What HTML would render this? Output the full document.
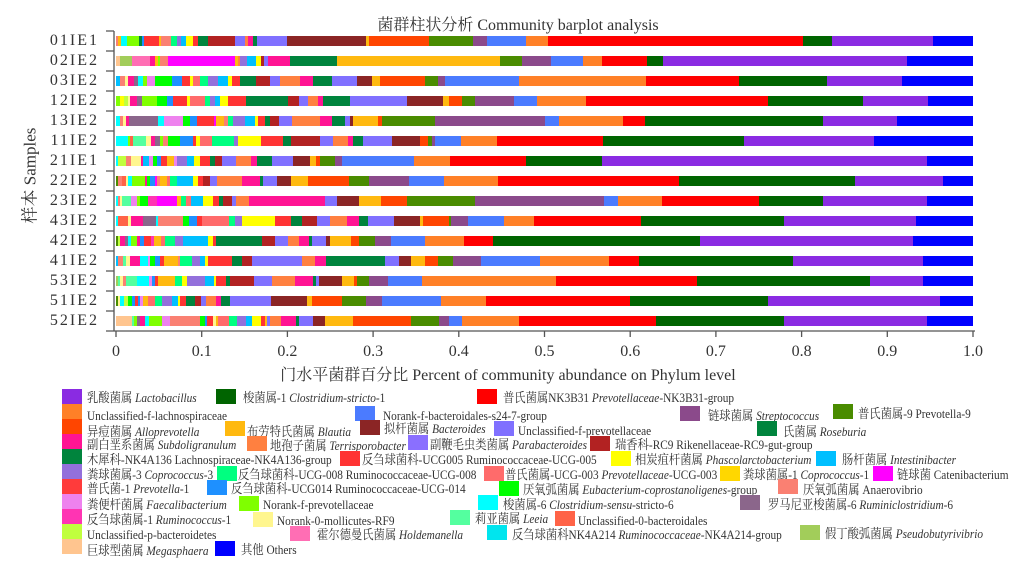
<!DOCTYPE html>
<html><head><meta charset="utf-8">
<style>
body{margin:0;width:1023px;height:568px;background:#fff;position:relative;overflow:hidden;font-family:"Liberation Serif","Noto Serif CJK SC",serif;color:#333}
.a{position:absolute}
.bar{position:absolute;left:0;width:973px;height:10px}
.yl{position:absolute;right:924px;font-size:16px;letter-spacing:2px;line-height:16px}
.xt{position:absolute;top:343px;font-size:16px;transform:translateX(-50%)}
.sw{position:absolute;width:20px;height:15px}
.lt{position:absolute;font-size:13px;line-height:15px;white-space:nowrap;transform:scaleX(0.87);transform-origin:0 0}
</style></head><body>
<div class="a" style="left:0;width:1036px;top:12px;text-align:center;font-size:16px">菌群柱状分析 Community barplot analysis</div>
<div class="a" style="left:-32px;top:163px;width:120px;text-align:center;font-size:17px;transform:rotate(-90deg)">样本 Samples</div>

<div class="bar" style="top:36px;background:linear-gradient(90deg,transparent 0 116px,#FA8072 116px 118px,#FFB90F 118px 121px,#00FFFF 121px 127px,#7FFF00 127px 139px,#00843D 139px 142px,#1E90FF 142px 144px,#FF3333 144px 159px,#FFB90F 159px 161px,#FA8072 161px 171px,#00FF80 171px 177px,#9370DB 177px 181px,#00BFFF 181px 186px,#FFFF00 186px 193px,#FF3333 193px 198px,#00843D 198px 208px,#B22222 208px 235px,#8070FF 235px 245px,#FF8040 245px 248px,#FF1493 248px 253px,#00843D 253px 257px,#8070FF 257px 287px,#8B2525 287px 366px,#FFB90F 366px 369px,#FF4500 369px 429px,#4A8C00 429px 473px,#8B4A8B 473px 487px,#4B7BFF 487px 526px,#FF8027 526px 548px,#FF0000 548px 803px,#006400 803px 832px,#8A2BE2 832px 933px,#0000FF 933px 973px)"></div>
<div class="bar" style="top:56px;background:linear-gradient(90deg,transparent 0 116px,#FFC58F 116px 120px,#A2CD5A 120px 132px,#FF6EB4 132px 150px,#FF1493 150px 155px,#FFB90F 155px 158px,#7FFF00 158px 160px,#FA8072 160px 168px,#FF00FF 168px 235px,#FFB90F 235px 238px,#FF8040 238px 240px,#9370DB 240px 247px,#00BFFF 247px 256px,#FFFF00 256px 261px,#B22222 261px 264px,#8070FF 264px 268px,#FF1493 268px 290px,#00843D 290px 337px,#FFB90F 337px 500px,#4A8C00 500px 522px,#8B4A8B 522px 551px,#4B7BFF 551px 583px,#FF8027 583px 602px,#FF0000 602px 647px,#006400 647px 663px,#8A2BE2 663px 907px,#0000FF 907px 973px)"></div>
<div class="bar" style="top:76px;background:linear-gradient(90deg,transparent 0 116px,#00BFFF 116px 120px,#FA8072 120px 125px,#FFF68F 125px 128px,#FF1493 128px 134px,#8B668B 134px 138px,#00FFFF 138px 143px,#7FFF00 143px 147px,#EE82EE 147px 155px,#00FF00 155px 172px,#1E90FF 172px 182px,#FF3333 182px 190px,#FFFF00 190px 193px,#FF6B6B 193px 200px,#00FF80 200px 208px,#9370DB 208px 218px,#00BFFF 218px 228px,#FFFF00 228px 232px,#FF3333 232px 240px,#00843D 240px 256px,#B22222 256px 270px,#8070FF 270px 280px,#FF8040 280px 300px,#FF1493 300px 313px,#00843D 313px 332px,#8070FF 332px 357px,#8B2525 357px 372px,#FFB90F 372px 380px,#FF4500 380px 425px,#4A8C00 425px 438px,#8B4A8B 438px 445px,#4B7BFF 445px 519px,#FF8027 519px 646px,#FF0000 646px 739px,#006400 739px 827px,#8A2BE2 827px 902px,#0000FF 902px 973px)"></div>
<div class="bar" style="top:96px;background:linear-gradient(90deg,transparent 0 116px,#7FFF00 116px 120px,#FFFF00 120px 124px,#C0FF3E 124px 128px,#FFF68F 128px 130px,#FF1493 130px 137px,#8B668B 137px 142px,#7FFF00 142px 157px,#00FF00 157px 167px,#1E90FF 167px 173px,#FF3333 173px 187px,#FFFF00 187px 190px,#FF6B6B 190px 205px,#00FF80 205px 210px,#9370DB 210px 215px,#00BFFF 215px 220px,#FFFF00 220px 228px,#FF3333 228px 246px,#00843D 246px 288px,#B22222 288px 299px,#8070FF 299px 308px,#FF8040 308px 318px,#FF1493 318px 323px,#00843D 323px 350px,#8070FF 350px 407px,#8B2525 407px 443px,#FFB90F 443px 449px,#FF4500 449px 462px,#4A8C00 462px 475px,#8B4A8B 475px 514px,#4B7BFF 514px 537px,#FF8027 537px 586px,#FF0000 586px 768px,#006400 768px 863px,#8A2BE2 863px 928px,#0000FF 928px 973px)"></div>
<div class="bar" style="top:116px;background:linear-gradient(90deg,transparent 0 116px,#00FFFF 116px 120px,#FA8072 120px 123px,#FFF68F 123px 126px,#FF1493 126px 129px,#8B668B 129px 158px,#00FFFF 158px 164px,#EE82EE 164px 183px,#00FF00 183px 190px,#1E90FF 190px 197px,#FF3333 197px 214px,#FF00FF 214px 216px,#FFB90F 216px 224px,#FA8072 224px 228px,#00FF80 228px 233px,#9370DB 233px 245px,#00BFFF 245px 255px,#FFFF00 255px 258px,#FF3333 258px 265px,#00843D 265px 270px,#B22222 270px 279px,#8070FF 279px 292px,#FF8040 292px 320px,#FF1493 320px 332px,#00843D 332px 345px,#8070FF 345px 350px,#8B2525 350px 353px,#FFB90F 353px 378px,#FF4500 378px 382px,#4A8C00 382px 435px,#8B4A8B 435px 545px,#4B7BFF 545px 559px,#FF8027 559px 623px,#FF0000 623px 645px,#006400 645px 823px,#8A2BE2 823px 897px,#0000FF 897px 973px)"></div>
<div class="bar" style="top:136px;background:linear-gradient(90deg,transparent 0 116px,#00FFFF 116px 128px,#7FFF00 128px 130px,#FF6347 130px 133px,#54FF9F 133px 146px,#FFF68F 146px 151px,#FF1493 151px 155px,#8B668B 155px 160px,#7FFF00 160px 163px,#FA8072 163px 168px,#00FF00 168px 180px,#1E90FF 180px 193px,#FF3333 193px 196px,#FFFF00 196px 200px,#FF6B6B 200px 212px,#00FF80 212px 234px,#9370DB 234px 238px,#FFFF00 238px 261px,#FF3333 261px 283px,#00843D 283px 291px,#B22222 291px 320px,#8070FF 320px 333px,#FF8040 333px 348px,#FF1493 348px 353px,#00843D 353px 363px,#8070FF 363px 392px,#8B2525 392px 420px,#FF4500 420px 428px,#4A8C00 428px 432px,#8B4A8B 432px 435px,#4B7BFF 435px 461px,#FF8027 461px 497px,#FF0000 497px 603px,#006400 603px 744px,#8A2BE2 744px 874px,#0000FF 874px 973px)"></div>
<div class="bar" style="top:156px;background:linear-gradient(90deg,transparent 0 116px,#00FFFF 116px 118px,#C0FF3E 118px 126px,#FA8072 126px 131px,#FFF68F 131px 141px,#FF1493 141px 143px,#00BFFF 143px 149px,#EE82EE 149px 153px,#00FF00 153px 157px,#1E90FF 157px 161px,#FF3333 161px 167px,#FFB90F 167px 174px,#EE82EE 174px 177px,#9370DB 177px 187px,#00BFFF 187px 194px,#FFFF00 194px 200px,#FF3333 200px 210px,#00843D 210px 215px,#B22222 215px 222px,#8070FF 222px 236px,#FF8040 236px 251px,#FF1493 251px 257px,#00843D 257px 272px,#8070FF 272px 293px,#8B2525 293px 310px,#FFB90F 310px 316px,#FF4500 316px 320px,#4A8C00 320px 335px,#8B4A8B 335px 342px,#4B7BFF 342px 414px,#FF8027 414px 450px,#FF0000 450px 526px,#006400 526px 602px,#8A2BE2 602px 927px,#0000FF 927px 973px)"></div>
<div class="bar" style="top:176px;background:linear-gradient(90deg,transparent 0 116px,#4A8C00 116px 118px,#FA8072 118px 122px,#FF6347 122px 126px,#FFF68F 126px 128px,#00FFFF 128px 132px,#7FFF00 132px 145px,#FF1493 145px 147px,#00FF00 147px 150px,#1E90FF 150px 155px,#FF00FF 155px 157px,#FA8072 157px 160px,#FFB90F 160px 167px,#FF6B6B 167px 170px,#00FF80 170px 177px,#00BFFF 177px 193px,#FFFF00 193px 198px,#FF3333 198px 203px,#B22222 203px 210px,#8070FF 210px 217px,#FF8040 217px 242px,#FF1493 242px 260px,#00843D 260px 263px,#8070FF 263px 277px,#8B2525 277px 291px,#FFB90F 291px 308px,#FF4500 308px 349px,#4A8C00 349px 369px,#8B4A8B 369px 409px,#4B7BFF 409px 444px,#FF8027 444px 498px,#FF0000 498px 679px,#006400 679px 855px,#8A2BE2 855px 943px,#0000FF 943px 973px)"></div>
<div class="bar" style="top:196px;background:linear-gradient(90deg,transparent 0 116px,#00FFFF 116px 118px,#FA8072 118px 120px,#FFF68F 120px 122px,#54FF9F 122px 131px,#EE82EE 131px 137px,#7FFF00 137px 140px,#00FF00 140px 148px,#FF34B3 148px 157px,#FF00FF 157px 177px,#FFB90F 177px 181px,#00FF80 181px 186px,#FF6B6B 186px 191px,#00BFFF 191px 203px,#FFFF00 203px 213px,#FF3333 213px 219px,#00843D 219px 223px,#B22222 223px 232px,#8070FF 232px 236px,#FF8040 236px 249px,#FF1493 249px 325px,#8070FF 325px 337px,#8B2525 337px 359px,#FFB90F 359px 381px,#FF4500 381px 407px,#4A8C00 407px 475px,#8B4A8B 475px 604px,#4B7BFF 604px 618px,#FF8027 618px 662px,#FF0000 662px 759px,#006400 759px 823px,#8A2BE2 823px 927px,#0000FF 927px 973px)"></div>
<div class="bar" style="top:216px;background:linear-gradient(90deg,transparent 0 116px,#00FFFF 116px 118px,#FF6347 118px 128px,#FFF68F 128px 131px,#FF1493 131px 143px,#8B668B 143px 156px,#00FFFF 156px 158px,#FA8072 158px 183px,#00FF00 183px 189px,#1E90FF 189px 197px,#FF3333 197px 202px,#FF6B6B 202px 229px,#00FF80 229px 235px,#9370DB 235px 242px,#FFFF00 242px 275px,#FF3333 275px 291px,#00843D 291px 302px,#B22222 302px 317px,#8070FF 317px 330px,#FF8040 330px 347px,#FF1493 347px 359px,#00843D 359px 368px,#8070FF 368px 394px,#8B2525 394px 420px,#FFB90F 420px 423px,#FF4500 423px 449px,#4A8C00 449px 451px,#8B4A8B 451px 468px,#4B7BFF 468px 504px,#FF8027 504px 534px,#FF0000 534px 641px,#006400 641px 784px,#8A2BE2 784px 916px,#0000FF 916px 973px)"></div>
<div class="bar" style="top:236px;background:linear-gradient(90deg,transparent 0 116px,#4A8C00 116px 118px,#C0FF3E 118px 120px,#FF1493 120px 125px,#8B668B 125px 128px,#00FFFF 128px 131px,#7FFF00 131px 137px,#FF1493 137px 140px,#1E90FF 140px 144px,#FF3333 144px 151px,#FF34B3 151px 154px,#FFB90F 154px 161px,#FF6B6B 161px 165px,#00FF80 165px 175px,#9370DB 175px 183px,#00BFFF 183px 208px,#FFFF00 208px 213px,#FF3333 213px 216px,#00843D 216px 262px,#B22222 262px 275px,#8070FF 275px 288px,#FF8040 288px 299px,#FF1493 299px 309px,#00843D 309px 312px,#8070FF 312px 326px,#8B2525 326px 330px,#FFB90F 330px 351px,#FF4500 351px 359px,#4A8C00 359px 375px,#8B4A8B 375px 391px,#4B7BFF 391px 425px,#FF8027 425px 464px,#FF0000 464px 493px,#006400 493px 700px,#8A2BE2 700px 913px,#0000FF 913px 973px)"></div>
<div class="bar" style="top:256px;background:linear-gradient(90deg,transparent 0 116px,#00BFFF 116px 118px,#FA8072 118px 123px,#54FF9F 123px 126px,#FFF68F 126px 130px,#FF1493 130px 140px,#00FFFF 140px 148px,#EE82EE 148px 150px,#00FF00 150px 155px,#1E90FF 155px 160px,#FF3333 160px 164px,#FFB90F 164px 178px,#FA8072 178px 180px,#00FF80 180px 192px,#9370DB 192px 200px,#00BFFF 200px 205px,#FFFF00 205px 208px,#FF3333 208px 232px,#00843D 232px 242px,#B22222 242px 252px,#8070FF 252px 302px,#FF8040 302px 315px,#FF1493 315px 326px,#00843D 326px 385px,#8070FF 385px 399px,#8B2525 399px 411px,#FFB90F 411px 425px,#FF4500 425px 438px,#4A8C00 438px 453px,#8B4A8B 453px 481px,#4B7BFF 481px 540px,#FF8027 540px 609px,#FF0000 609px 639px,#006400 639px 793px,#8A2BE2 793px 923px,#0000FF 923px 973px)"></div>
<div class="bar" style="top:276px;background:linear-gradient(90deg,transparent 0 116px,#A2CD5A 116px 118px,#54FF9F 118px 120px,#FFF68F 120px 123px,#FA8072 123px 126px,#54FF9F 126px 137px,#00FFFF 137px 149px,#EE82EE 149px 152px,#1E90FF 152px 155px,#FF3333 155px 158px,#FFB90F 158px 175px,#00FF80 175px 182px,#FFFF00 182px 187px,#9370DB 187px 205px,#00BFFF 205px 214px,#FFFF00 214px 216px,#FF3333 216px 226px,#00843D 226px 230px,#B22222 230px 254px,#8070FF 254px 272px,#FF8040 272px 295px,#FF1493 295px 313px,#00843D 313px 316px,#8070FF 316px 319px,#8B2525 319px 342px,#FFB90F 342px 354px,#FF4500 354px 357px,#4A8C00 357px 369px,#8B4A8B 369px 388px,#4B7BFF 388px 422px,#FF8027 422px 556px,#FF0000 556px 697px,#006400 697px 870px,#8A2BE2 870px 923px,#0000FF 923px 973px)"></div>
<div class="bar" style="top:296px;background:linear-gradient(90deg,transparent 0 116px,#4A8C00 116px 118px,#FFF68F 118px 120px,#00FFFF 120px 124px,#C0FF3E 124px 128px,#00FF00 128px 132px,#1E90FF 132px 135px,#FF3333 135px 138px,#1E90FF 138px 140px,#EE82EE 140px 143px,#FFB90F 143px 148px,#FF6B6B 148px 155px,#00FF80 155px 162px,#9370DB 162px 172px,#00BFFF 172px 178px,#FFFF00 178px 180px,#FF3333 180px 186px,#00843D 186px 195px,#B22222 195px 201px,#8070FF 201px 206px,#FF8040 206px 216px,#FF1493 216px 221px,#00843D 221px 230px,#8070FF 230px 271px,#8B2525 271px 307px,#FFB90F 307px 312px,#FF4500 312px 342px,#4A8C00 342px 366px,#8B4A8B 366px 382px,#4B7BFF 382px 441px,#FF8027 441px 486px,#FF0000 486px 630px,#006400 630px 768px,#8A2BE2 768px 940px,#0000FF 940px 973px)"></div>
<div class="bar" style="top:316px;background:linear-gradient(90deg,transparent 0 116px,#FFC58F 116px 132px,#54FF9F 132px 134px,#7FFF00 134px 137px,#8B668B 137px 140px,#FF1493 140px 145px,#00FFFF 145px 149px,#7FFF00 149px 162px,#EE82EE 162px 170px,#FA8072 170px 200px,#00FF00 200px 205px,#1E90FF 205px 207px,#FF3333 207px 213px,#FFF68F 213px 216px,#FFB90F 216px 218px,#FF6B6B 218px 229px,#00FF80 229px 237px,#9370DB 237px 246px,#00BFFF 246px 252px,#FFFF00 252px 261px,#FF3333 261px 265px,#FFB90F 265px 267px,#8070FF 267px 270px,#FF8040 270px 281px,#FF1493 281px 296px,#00843D 296px 299px,#8070FF 299px 313px,#8B2525 313px 325px,#FFB90F 325px 353px,#FF4500 353px 411px,#4A8C00 411px 439px,#8B4A8B 439px 449px,#4B7BFF 449px 462px,#FF8027 462px 519px,#FF0000 519px 656px,#006400 656px 784px,#8A2BE2 784px 927px,#0000FF 927px 973px)"></div>

<svg class="a" style="left:0;top:0" width="1023" height="380">
<g stroke="#555" stroke-width="1.3" fill="none">
<line x1="114" y1="31" x2="114" y2="331"/>
<line x1="114" y1="331" x2="975" y2="331"/>
<path d="M106 31H114M106 51H114M106 71H114M106 91H114M106 111H114M106 131H114M106 151H114M106 171H114M106 191H114M106 211H114M106 231H114M106 251H114M106 271H114M106 291H114M106 311H114M106 331H114"/>
<path d="M116 331V337M201.7 331V337M287.4 331V337M373.1 331V337M458.8 331V337M544.5 331V337M630.2 331V337M715.9 331V337M801.6 331V337M887.3 331V337M973 331V337"/>
</g></svg>

<div class="yl" style="top:33px">01IE1</div>
<div class="yl" style="top:53px">02IE2</div>
<div class="yl" style="top:73px">03IE2</div>
<div class="yl" style="top:93px">12IE2</div>
<div class="yl" style="top:113px">13IE2</div>
<div class="yl" style="top:133px">11IE2</div>
<div class="yl" style="top:153px">21IE1</div>
<div class="yl" style="top:173px">22IE2</div>
<div class="yl" style="top:193px">23IE2</div>
<div class="yl" style="top:213px">43IE2</div>
<div class="yl" style="top:233px">42IE2</div>
<div class="yl" style="top:253px">41IE2</div>
<div class="yl" style="top:273px">53IE2</div>
<div class="yl" style="top:293px">51IE2</div>
<div class="yl" style="top:313px">52IE2</div>

<div class="xt" style="left:116px">0</div>
<div class="xt" style="left:201.7px">0.1</div>
<div class="xt" style="left:287.4px">0.2</div>
<div class="xt" style="left:373.1px">0.3</div>
<div class="xt" style="left:458.8px">0.4</div>
<div class="xt" style="left:544.5px">0.5</div>
<div class="xt" style="left:630.2px">0.6</div>
<div class="xt" style="left:715.9px">0.7</div>
<div class="xt" style="left:801.6px">0.8</div>
<div class="xt" style="left:887.3px">0.9</div>
<div class="xt" style="left:973px">1.0</div>
<div class="a" style="left:0;width:1016px;top:362px;text-align:center;font-size:16px">门水平菌群百分比 Percent of community abundance on Phylum level</div>

<div class="sw" style="left:62px;top:389px;background:#8A2BE2"></div><div class="lt" style="left:87px;top:390px">乳酸菌属 <i>Lactobacillus</i></div>
<div class="sw" style="left:216px;top:389px;background:#006400"></div><div class="lt" style="left:243px;top:390px">梭菌属-1 <i>Clostridium-stricto</i>-1</div>
<div class="sw" style="left:477px;top:389px;background:#FF0000"></div><div class="lt" style="left:503px;top:390px">普氏菌属NK3B31 <i>Prevotellaceae</i>-NK3B31-group</div>

<div class="sw" style="left:62px;top:404px;background:#FF8027"></div><div class="lt" style="left:87px;top:408px">Unclassified-f-lachnospiraceae</div>
<div class="sw" style="left:355px;top:406px;background:#4B7BFF"></div><div class="lt" style="left:383px;top:408px">Norank-f-bacteroidales-s24-7-group</div>
<div class="sw" style="left:680px;top:406px;background:#8B4A8B"></div><div class="lt" style="left:708px;top:408px">链球菌属 <i>Streptococcus</i></div>
<div class="sw" style="left:833px;top:404px;background:#4A8C00"></div><div class="lt" style="left:858px;top:406px">普氏菌属-9 Prevotella-9</div>

<div class="sw" style="left:62px;top:419px;background:#FF4500"></div><div class="lt" style="left:87px;top:424px">异痘菌属 <i>Alloprevotella</i></div>
<div class="sw" style="left:225px;top:421px;background:#FFB90F"></div><div class="lt" style="left:247px;top:424px">布劳特氏菌属 <i>Blautia</i></div>
<div class="sw" style="left:360px;top:420px;background:#8B2525"></div><div class="lt" style="left:384px;top:421px">拟杆菌属 <i>Bacteroides</i></div>
<div class="sw" style="left:494px;top:421px;background:#8070FF"></div><div class="lt" style="left:518px;top:423px">Unclassified-f-prevotellaceae</div>
<div class="sw" style="left:757px;top:421px;background:#00843D"></div><div class="lt" style="left:783px;top:424px">氏菌属 <i>Roseburia</i></div>

<div class="sw" style="left:62px;top:434px;background:#FF1493"></div><div class="lt" style="left:87px;top:437px">副白垩系菌属 <i>Subdoligranulum</i></div>
<div class="sw" style="left:247px;top:436px;background:#FF8040"></div><div class="lt" style="left:270px;top:438px">地孢子菌属 <i>Terrisporobacter</i></div>
<div class="sw" style="left:408px;top:435px;background:#8A6FFF"></div><div class="lt" style="left:430px;top:437px">副鞭毛虫类菌属 <i>Parabacteroides</i></div>
<div class="sw" style="left:590px;top:436px;background:#B22222"></div><div class="lt" style="left:615px;top:437px">瑞香科-RC9 Rikenellaceae-RC9-gut-group</div>

<div class="sw" style="left:62px;top:449px;background:#00843D"></div><div class="lt" style="left:87px;top:452px">木犀科-NK4A136 Lachnospiraceae-NK4A136-group</div>
<div class="sw" style="left:340px;top:451px;background:#FF3333"></div><div class="lt" style="left:362px;top:452px">反刍球菌科-UCG005 Ruminococcaceae-UCG-005</div>
<div class="sw" style="left:611px;top:451px;background:#FFFF00"></div><div class="lt" style="left:635px;top:452px">相炭疽杆菌属 <i>Phascolarctobacterium</i></div>
<div class="sw" style="left:816px;top:451px;background:#00BFFF"></div><div class="lt" style="left:842px;top:452px">肠杆菌属 <i>Intestinibacter</i></div>

<div class="sw" style="left:62px;top:464px;background:#9370DB"></div><div class="lt" style="left:87px;top:467px">粪球菌属-3 <i>Coprococcus</i>-3</div>
<div class="sw" style="left:217px;top:466px;background:#00FF80"></div><div class="lt" style="left:238px;top:467px">反刍球菌科-UCG-008 Ruminococcaceae-UCG-008</div>
<div class="sw" style="left:484px;top:466px;background:#FF6B6B"></div><div class="lt" style="left:505px;top:467px">普氏菌属-UCG-003 <i>Prevotellaceae</i>-UCG-003</div>
<div class="sw" style="left:720px;top:466px;background:#FFD700"></div><div class="lt" style="left:743px;top:467px">粪球菌属-1 <i>Coprococcus</i>-1</div>
<div class="sw" style="left:873px;top:466px;background:#FF00FF"></div><div class="lt" style="left:897px;top:467px">链球菌 Catenibacterium</div>

<div class="sw" style="left:62px;top:479px;background:#FF3B3B"></div><div class="lt" style="left:87px;top:481px">普氏菌-1 <i>Prevotella</i>-1</div>
<div class="sw" style="left:207px;top:480px;background:#1E90FF"></div><div class="lt" style="left:231px;top:481px">反刍球菌科-UCG014 Ruminococcaceae-UCG-014</div>
<div class="sw" style="left:499px;top:481px;background:#00FF00"></div><div class="lt" style="left:523px;top:482px">厌氧弧菌属 <i>Eubacterium-coprostanoligenes</i>-group</div>
<div class="sw" style="left:778px;top:479px;background:#FA8072"></div><div class="lt" style="left:803px;top:482px">厌氧弧菌属 Anaerovibrio</div>

<div class="sw" style="left:62px;top:494px;background:#EE82EE"></div><div class="lt" style="left:87px;top:497px">粪便杆菌属 <i>Faecalibacterium</i></div>
<div class="sw" style="left:239px;top:496px;background:#7FFF00"></div><div class="lt" style="left:263px;top:497px">Norank-f-prevotellaceae</div>
<div class="sw" style="left:478px;top:495px;background:#00FFFF"></div><div class="lt" style="left:503px;top:497px">梭菌属-6 <i>Clostridium-sensu</i>-stricto-6</div>
<div class="sw" style="left:740px;top:495px;background:#8B668B"></div><div class="lt" style="left:768px;top:497px">罗马尼亚梭菌属-6 <i>Ruminiclostridium</i>-6</div>

<div class="sw" style="left:62px;top:509px;background:#FF34B3"></div><div class="lt" style="left:87px;top:512px">反刍球菌属-1 <i>Ruminococcus</i>-1</div>
<div class="sw" style="left:253px;top:512px;background:#FFF68F"></div><div class="lt" style="left:277px;top:513px">Norank-0-mollicutes-RF9</div>
<div class="sw" style="left:450px;top:510px;background:#54FF9F"></div><div class="lt" style="left:475px;top:511px">莉亚菌属 <i>Leeia</i></div>
<div class="sw" style="left:555px;top:511px;background:#FF6347"></div><div class="lt" style="left:578px;top:513px">Unclassified-0-bacteroidales</div>

<div class="sw" style="left:62px;top:524px;background:#C0FF3E"></div><div class="lt" style="left:87px;top:527px">Unclassified-p-bacteroidetes</div>
<div class="sw" style="left:290px;top:526px;background:#FF6EB4"></div><div class="lt" style="left:317px;top:527px">霍尔德曼氏菌属 <i>Holdemanella</i></div>
<div class="sw" style="left:487px;top:525px;background:#00E5EE"></div><div class="lt" style="left:512px;top:527px">反刍球菌科NK4A214 <i>Ruminococcaceae</i>-NK4A214-group</div>
<div class="sw" style="left:800px;top:525px;background:#A2CD5A"></div><div class="lt" style="left:825px;top:526px">假丁酸弧菌属 <i>Pseudobutyrivibrio</i></div>

<div class="sw" style="left:62px;top:539px;background:#FFC58F"></div><div class="lt" style="left:87px;top:543px">巨球型菌属 <i>Megasphaera</i></div>
<div class="sw" style="left:215px;top:541px;background:#0000FF"></div><div class="lt" style="left:241px;top:542px">其他 Others</div>
</body></html>
